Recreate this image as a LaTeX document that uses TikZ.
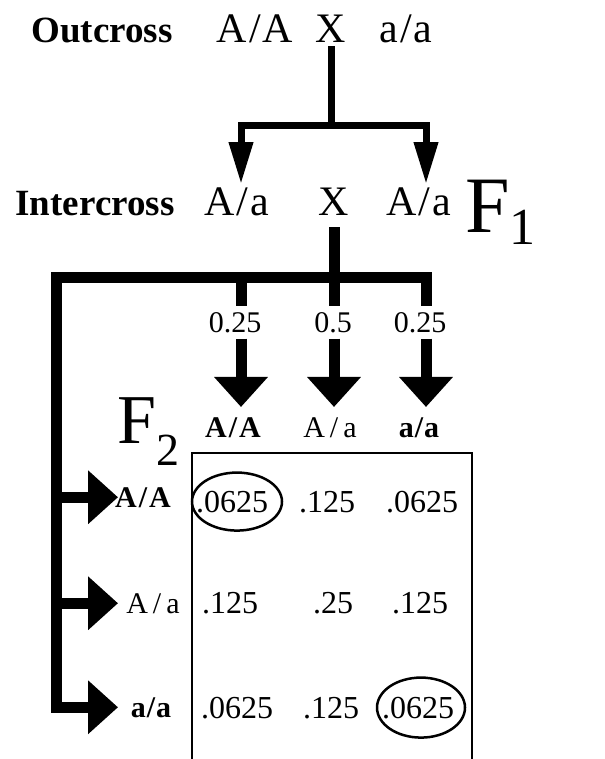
\documentclass[tikz,border=0pt]{standalone}
\usepackage{fontspec}
\setmainfont{Liberation Serif}
\usetikzlibrary{arrows.meta}
\tikzset{
  gen/.style={anchor=base, inner sep=3pt, font=\fontsize{42}{42}\selectfont},
  genb/.style={gen, font=\fontsize{37}{37}\selectfont\bfseries},
  head/.style={anchor=base, inner sep=10pt, font=\fontsize{30}{30}\selectfont},
  headb/.style={head, font=\fontsize{30}{30}\selectfont\bfseries},
  prob/.style={anchor=base, inner sep=6pt, font=\fontsize{30}{30}\selectfont},
  cell/.style={anchor=base, inner sep=3pt, font=\fontsize{32}{32}\selectfont},
  gener/.style={anchor=base west, inner sep=0pt},
  link/.style={line width=7pt},
  linkarr/.style={link, -{Triangle[length=42pt, width=23pt]}},
  bar/.style={line width=11pt},
  fat/.style={bar, -{Triangle[length=30pt, width=52pt]}},
  ring/.style={line width=2.5pt},
}
\newcommand{\gtype}[3][2pt]{#2\kern#1/\kern#1#3}

\begin{document}
\begin{tikzpicture}[x=1pt, y=-1pt]
    \useasboundingbox (0,0) rectangle (604,759);

    % outcross row
    \node[genb] (outx) at (102,43) {Outcross};
    \node[gen] (pAA) at (255,43) {\gtype{A}{A}};
    \node[gen] (xa) at (331,43) {X};
    \node[gen] (paa) at (406,43) {\gtype{a}{a}};

    % intercross row
    \node[genb] (intx) at (95,215) {Intercross};
    \node[gen] (f1L) at (237,215) {\gtype{A}{a}};
    \node[gen] (xb) at (334,215) {X};
    \node[gen] (f1R) at (419,215) {\gtype{A}{a}};
    \node[gener] (f1) at (465,233) {{\fontsize{80}{80}\selectfont F}\raisebox{-12pt}{\fontsize{52}{52}\selectfont 1}};

    \coordinate (hubA) at (331,126);
    \draw[link] (xa.south) -- (hubA);
    \draw[linkarr] (hubA) -| ([xshift=4pt]f1L.north);
    \draw[linkarr] (hubA) -| ([xshift=7pt]f1R.north);

    % probabilities and F2 columns
    \node[prob] (p1) at (235,332) {0.25};
    \node[prob] (p2) at (333,332) {0.5};
    \node[prob] (p3) at (420,332) {0.25};
    \node[headb] (cAA) at (233,437) {\gtype{A}{A}};
    \node[head] (cAa) at (330,437) {\gtype[5pt]{A}{a}};
    \node[headb] (caa) at (419,437) {\gtype[1pt]{a}{a}};
    \node[gener] (f2) at (117,443) {{\fontsize{70}{70}\selectfont F}\raisebox{-22pt}{\fontsize{46}{46}\selectfont 2}};

    % F2 rows
    \node[headb] (rAA) at (143,507) {\gtype{A}{A}};
    \node[head] (rAa) at (153,613) {\gtype[5pt]{A}{a}};
    \node[headb] (raa) at (151,717) {\gtype[1pt]{a}{a}};

    \coordinate (corner) at (56,277);
    \coordinate (dA) at (241,277);
    \coordinate (dB) at (334,277);
    \coordinate (dC) at (426,277);
    \coordinate (tipx) at (118,0);

    \draw[bar] ([yshift=-9pt]xb.south) -- (dB |- p2.north);
    \draw[bar] (dA) -- (dA |- p1.north);
    \draw[fat] (dC |- p3.north) |- (corner) |- (tipx |- raa);
    \draw[fat] (corner |- rAA) -- (tipx |- rAA);
    \draw[fat] (corner |- rAa) -- (tipx |- rAa);
    \foreach \d/\p in {dA/p1, dB/p2, dC/p3}{ \draw[fat] (\d |- \p.south) -- (\d |- cAA.north); }

    % punnett table
    \node[draw, line width=2.5pt, minimum width=280pt, minimum height=320pt, inner sep=0pt] (tbl) at (332,613) {};
    \foreach \x/\y/\v [count=\i] in {232/512/.0625, 327/512/.125, 422/512/.0625,
                                    230/613/.125, 333/613/.25, 420/613/.125,
                                    237/718/.0625, 331/718/.125, 418/718/.0625}
      \node[cell] (v\i) at (\x,\y) {\v};
    \draw[ring] ([xshift=5pt]v1.center) ellipse [x radius=45pt, y radius=29pt];
    \draw[ring] ([xshift=3pt]v9.center) ellipse [x radius=44pt, y radius=30pt];
\end{tikzpicture}
\end{document}
